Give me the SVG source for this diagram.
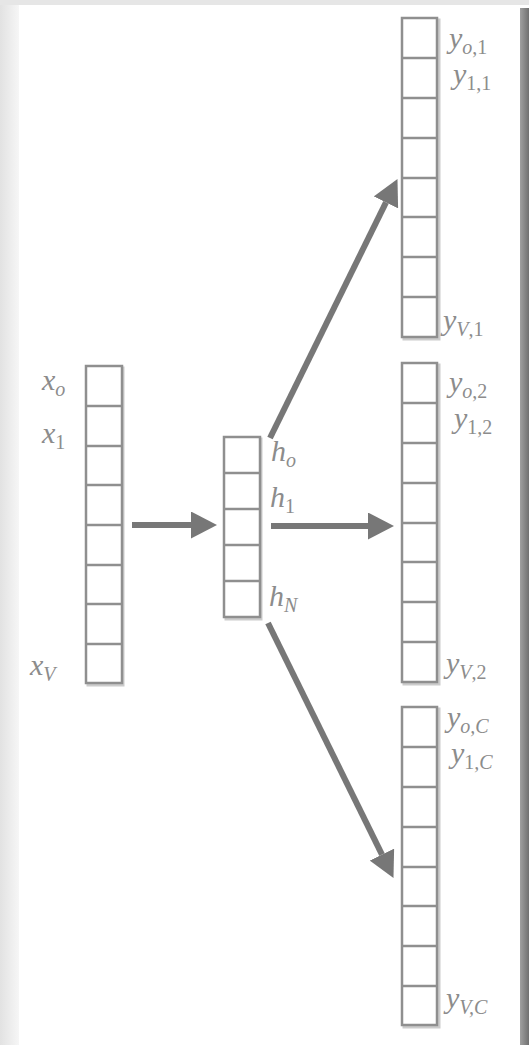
<svg xmlns="http://www.w3.org/2000/svg" width="529" height="1045" viewBox="0 0 529 1045">
  <defs>
    <linearGradient id="leftShade" x1="0" y1="0" x2="1" y2="0">
      <stop offset="0" stop-color="#e2e2e2"/>
      <stop offset="1" stop-color="#f6f6f6"/>
    </linearGradient>
    <linearGradient id="rightShade" x1="0" y1="0" x2="1" y2="0">
      <stop offset="0" stop-color="#a0a0a0"/>
      <stop offset="1" stop-color="#707070"/>
    </linearGradient>
    <marker id="head" markerUnits="userSpaceOnUse" markerWidth="26" markerHeight="27" refX="0" refY="13.5" orient="auto">
      <path d="M0,0 L26,13.5 L0,27 Z" fill="#777"/>
    </marker>
    <style>
      .col { fill: #fff; stroke: #8f8f8f; stroke-width: 2.5; }
      .shade { fill: none; stroke: #cccccc; stroke-width: 3; }
      .div { stroke: #8f8f8f; stroke-width: 2.5; }
      .lbl { font-family: "Liberation Serif", "DejaVu Serif", serif; font-style: italic; font-size: 30px; fill: #8c8c8c; }
      .sub { font-size: 20px; }
      .up { font-style: normal; }
      .arrow { stroke: #777; stroke-width: 6; fill: none; marker-end: url(#head); }
    </style>
  </defs>

  <!-- background frame -->
  <rect x="0" y="0" width="529" height="1045" fill="#ffffff"/>
  <rect x="0" y="0" width="19" height="1045" fill="url(#leftShade)"/>
  <rect x="0" y="0" width="529" height="5" fill="#e6e6e6"/>
  <rect x="520" y="8" width="9" height="1037" fill="url(#rightShade)"/>

  <!-- input column -->
  <g id="input">
    <rect class="shade" x="88" y="368" width="35" height="317"/>
    <rect class="col" x="86" y="366" width="36" height="317"/>
    <g class="div">
      <line x1="86" y1="406" x2="122" y2="406"/>
      <line x1="86" y1="446" x2="122" y2="446"/>
      <line x1="86" y1="485" x2="122" y2="485"/>
      <line x1="86" y1="525" x2="122" y2="525"/>
      <line x1="86" y1="565" x2="122" y2="565"/>
      <line x1="86" y1="604" x2="122" y2="604"/>
      <line x1="86" y1="644" x2="122" y2="644"/>
    </g>
    <text class="lbl" x="42" y="390">x<tspan class="sub" dy="6">o</tspan></text>
    <text class="lbl" x="42" y="443">x<tspan class="sub up" dy="6">1</tspan></text>
    <text class="lbl" x="30" y="675">x<tspan class="sub" dy="6">V</tspan></text>
  </g>

  <!-- hidden column -->
  <g id="hidden">
    <rect class="shade" x="226" y="439" width="35" height="180"/>
    <rect class="col" x="224" y="437" width="36" height="180"/>
    <g class="div">
      <line x1="224" y1="473" x2="260" y2="473"/>
      <line x1="224" y1="509" x2="260" y2="509"/>
      <line x1="224" y1="545" x2="260" y2="545"/>
      <line x1="224" y1="581" x2="260" y2="581"/>
    </g>
    <text class="lbl" x="271" y="461">h<tspan class="sub" dy="6">o</tspan></text>
    <text class="lbl" x="270" y="507">h<tspan class="sub up" dy="6">1</tspan></text>
    <text class="lbl" x="269" y="606">h<tspan class="sub" dy="6">N</tspan></text>
  </g>

  <!-- output column 1 -->
  <g id="output1">
    <rect class="shade" x="404" y="20" width="35" height="319"/>
    <rect class="col" x="402" y="18" width="35" height="319"/>
    <g class="div">
      <line x1="402" y1="58" x2="437" y2="58"/>
      <line x1="402" y1="98" x2="437" y2="98"/>
      <line x1="402" y1="138" x2="437" y2="138"/>
      <line x1="402" y1="178" x2="437" y2="178"/>
      <line x1="402" y1="217" x2="437" y2="217"/>
      <line x1="402" y1="257" x2="437" y2="257"/>
      <line x1="402" y1="297" x2="437" y2="297"/>
    </g>
    <text class="lbl" x="449" y="48">y<tspan class="sub" dy="6">o<tspan class="up">,1</tspan></tspan></text>
    <text class="lbl" x="453" y="84">y<tspan class="sub up" dy="6">1,1</tspan></text>
    <text class="lbl" x="443" y="330">y<tspan class="sub" dy="6">V<tspan class="up">,1</tspan></tspan></text>
  </g>

  <!-- output column 2 -->
  <g id="output2">
    <rect class="shade" x="404" y="365" width="35" height="319"/>
    <rect class="col" x="402" y="363" width="35" height="319"/>
    <g class="div">
      <line x1="402" y1="403" x2="437" y2="403"/>
      <line x1="402" y1="443" x2="437" y2="443"/>
      <line x1="402" y1="483" x2="437" y2="483"/>
      <line x1="402" y1="523" x2="437" y2="523"/>
      <line x1="402" y1="562" x2="437" y2="562"/>
      <line x1="402" y1="602" x2="437" y2="602"/>
      <line x1="402" y1="642" x2="437" y2="642"/>
    </g>
    <text class="lbl" x="449" y="392">y<tspan class="sub" dy="6">o<tspan class="up">,2</tspan></tspan></text>
    <text class="lbl" x="454" y="428">y<tspan class="sub up" dy="6">1,2</tspan></text>
    <text class="lbl" x="446" y="673">y<tspan class="sub" dy="6">V<tspan class="up">,2</tspan></tspan></text>
  </g>

  <!-- output column 3 -->
  <g id="output3">
    <rect class="shade" x="404" y="709" width="35" height="318"/>
    <rect class="col" x="402" y="707" width="35" height="318"/>
    <g class="div">
      <line x1="402" y1="747" x2="437" y2="747"/>
      <line x1="402" y1="787" x2="437" y2="787"/>
      <line x1="402" y1="827" x2="437" y2="827"/>
      <line x1="402" y1="867" x2="437" y2="867"/>
      <line x1="402" y1="906" x2="437" y2="906"/>
      <line x1="402" y1="946" x2="437" y2="946"/>
      <line x1="402" y1="986" x2="437" y2="986"/>
    </g>
    <text class="lbl" x="447" y="727">y<tspan class="sub" dy="6">o,C</tspan></text>
    <text class="lbl" x="451" y="763">y<tspan class="sub" dy="6"><tspan class="up">1</tspan>,C</tspan></text>
    <text class="lbl" x="446" y="1008">y<tspan class="sub" dy="6">V,C</tspan></text>
  </g>

  <!-- connectors -->
  <g id="connectors">
    <line class="arrow" x1="132" y1="525" x2="191" y2="525"/>
    <line class="arrow" x1="271" y1="526" x2="368" y2="526"/>
    <line class="arrow" x1="270" y1="438" x2="386" y2="202.4"/>
    <line class="arrow" x1="268" y1="623" x2="382" y2="854.6"/>
  </g>
</svg>
